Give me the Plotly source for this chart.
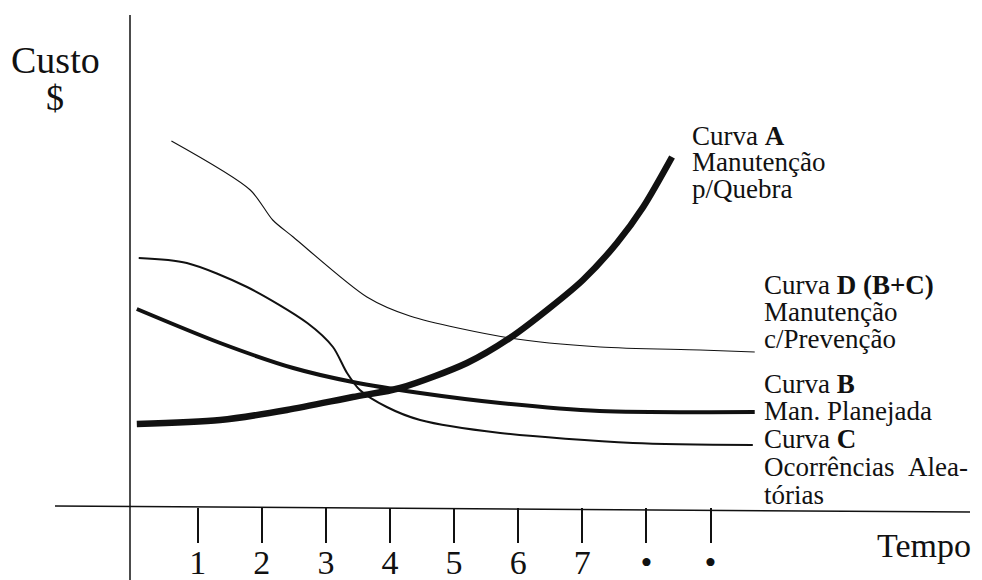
import plotly.graph_objects as go

# Data (x in "Tempo" units, y in cost units; x-axis at y=0)
a_x = [0.05, 1.35, 2.39, 3.42, 4.16, 5.20, 5.87, 6.49, 7.01, 7.54, 7.95, 8.40]
a_y = [1.64, 1.72, 1.92, 2.18, 2.36, 2.86, 3.36, 3.96, 4.52, 5.26, 5.98, 6.98]

b_x = [0.05, 1.35, 2.49, 3.42, 4.47, 5.72, 7.27, 9.69]
b_y = [3.94, 3.26, 2.76, 2.48, 2.26, 2.06, 1.90, 1.88]

c_x = [0.08, 0.83, 1.77, 2.71, 3.11, 3.33, 3.53, 3.95, 4.47, 5.72, 7.79, 9.66]
c_y = [4.96, 4.86, 4.38, 3.66, 3.18, 2.66, 2.32, 1.98, 1.72, 1.46, 1.26, 1.22]

d_x = [0.59, 1.82, 2.17, 2.49, 3.64, 4.31, 5.87, 7.28, 8.84, 9.69]
d_y = [7.30, 6.32, 5.72, 5.38, 4.18, 3.80, 3.36, 3.18, 3.12, 3.08]

tick_vals = [1, 2, 3, 4, 5, 6, 7, 8, 9]
tick_text = ["1", "2", "3", "4", "5", "6", "7", "•", "•"]

labels_a = ["Curva <b>A</b>", "Manutenção", "p/Quebra"]
labels_d = ["Curva <b>D (B+C)</b>", "Manutenção", "c/Prevenção"]
labels_bc = ["Curva <b>B</b>", "Man. Planejada", "Curva <b>C</b>", "Ocorrências&nbsp;&nbsp;Alea-", "tórias"]

FONT = "Liberation Serif, Times New Roman, serif"
INK = "#111111"

# The page has an 8px body margin: the figure starts at page pixel (8, 8).
OFF = 8
W, H = 982 - OFF, 580 - OFF

# page pixel -> data helpers for layout only
def px2x(px):
    return (px - 133.6) / 64.1

def py2y(py):
    return (506 - py) / 50.0

fig = go.Figure()
fig.add_trace(go.Scatter(x=d_x, y=d_y, mode="lines", line=dict(color=INK, width=1.1, shape="spline", smoothing=0.8), hoverinfo="skip"))
fig.add_trace(go.Scatter(x=c_x, y=c_y, mode="lines", line=dict(color=INK, width=2, shape="spline", smoothing=0.8), hoverinfo="skip"))
fig.add_trace(go.Scatter(x=b_x, y=b_y, mode="lines", line=dict(color=INK, width=4, shape="spline", smoothing=0.8), hoverinfo="skip"))
fig.add_trace(go.Scatter(x=a_x, y=a_y, mode="lines", line=dict(color=INK, width=6.5, shape="spline", smoothing=0.8), hoverinfo="skip"))

shapes = [
    # y axis
    dict(type="line", x0=px2x(130), x1=px2x(130), y0=py2y(15), y1=py2y(580), line=dict(color=INK, width=1.5)),
    # x axis (slightly tilted like the scan)
    dict(type="line", x0=px2x(55), x1=px2x(970), y0=py2y(506), y1=py2y(512), line=dict(color=INK, width=1.5)),
]

annotations = []
def add_lines(lines, left_px, ys_px, size=27):
    for t, yp in zip(lines, ys_px):
        annotations.append(dict(x=px2x(left_px), y=py2y(yp), text=t, showarrow=False, xanchor="left", yanchor="middle",
                                font=dict(family=FONT, size=size, color=INK)))

add_lines(labels_a, 690, [136, 162, 189])
add_lines(labels_d, 762, [285, 312, 339])
add_lines(labels_bc, 762, [384, 411, 439, 467, 495])

annotations.append(dict(x=px2x(55), y=py2y(60), text="Custo", showarrow=False, xanchor="center", yanchor="middle",
                        font=dict(family=FONT, size=38, color=INK)))
annotations.append(dict(x=px2x(55), y=py2y(98), text="$", showarrow=False, xanchor="center", yanchor="middle",
                        font=dict(family=FONT, size=36, color=INK)))
annotations.append(dict(x=px2x(924), y=py2y(545), text="Tempo", showarrow=False, xanchor="center", yanchor="middle",
                        font=dict(family=FONT, size=34, color=INK)))

fig.update_layout(
    width=W, height=H,
    margin=dict(l=0, r=0, t=0, b=0, autoexpand=False),
    paper_bgcolor="white", plot_bgcolor="white",
    showlegend=False,
    shapes=shapes,
    annotations=annotations,
    xaxis=dict(range=[px2x(OFF), px2x(982)], showgrid=False, zeroline=False, showline=False,
               automargin=False,
               tickmode="array", tickvals=tick_vals, ticktext=tick_text,
               ticks="outside", ticklen=35, tickwidth=1.5, tickcolor=INK,
               anchor="free", position=(H - (507 - OFF)) / H,
               tickfont=dict(family=FONT, size=34, color=INK), ticklabelstandoff=-10),
    yaxis=dict(range=[py2y(580), py2y(OFF)], showgrid=False, zeroline=False, showline=False,
               automargin=False, showticklabels=False, ticks=""),
)

fig.write_html("out.html")
